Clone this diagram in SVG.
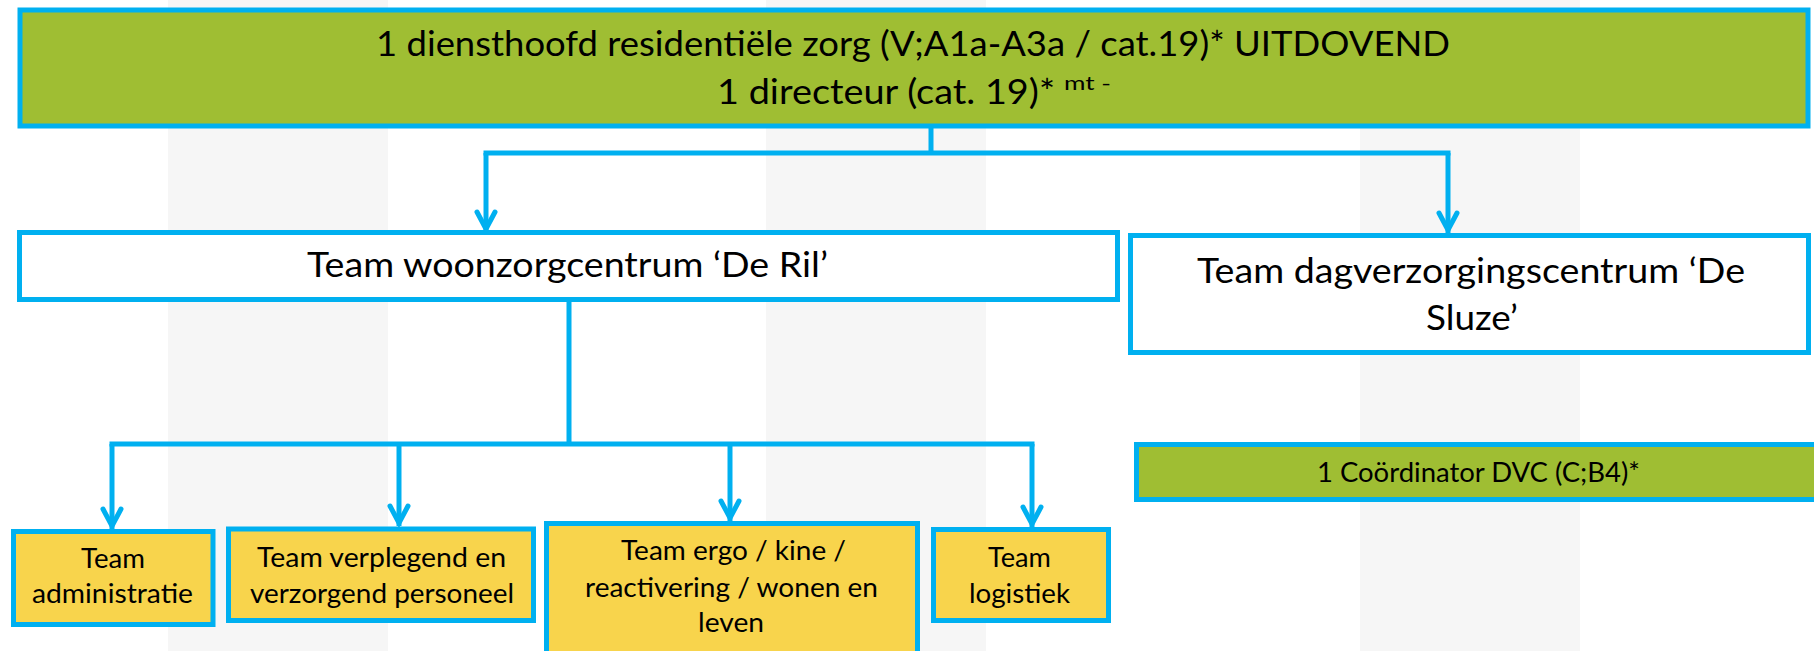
<svg xmlns="http://www.w3.org/2000/svg" width="1814" height="651" viewBox="0 0 1814 651">
<style>
.bg{fill:#f6f6f6}
.box{stroke:#00b0f0;stroke-width:5}
.green{fill:#9fbe33}
.white{fill:#ffffff}
.yellow{fill:#f8d44c}
text{font-family:Lato,"Liberation Sans",sans-serif;fill:#000000}
.big{font-size:35px}
.small{font-size:26px}
.sup{font-size:20px}
.conn{fill:none;stroke:#00b0f0;stroke-width:5}
.bar{fill:none;stroke:#00b0f0;stroke-width:5;stroke-linecap:square}
</style>
<defs>
<marker id="arr" viewBox="-24 -12 28 24" refX="0" refY="0" markerWidth="28" markerHeight="24" orient="auto" markerUnits="userSpaceOnUse">
<path d="M-20,-9 L-3,0 L-20,9" fill="none" stroke="#00b0f0" stroke-width="5" stroke-linecap="round"/>
</marker>
</defs>
<rect width="1814" height="651" fill="#ffffff"/>
<g id="watermark">
<rect class="bg" x="168" y="0" width="220" height="651"/>
<rect class="bg" x="766" y="0" width="220" height="651"/>
<rect class="bg" x="1360" y="0" width="220" height="651"/>
</g>
<g id="connectors">
<path class="conn" d="M931,128 V153"/>
<path class="bar" d="M486,153 H1448"/>
<path class="conn" d="M486,153 V232" marker-end="url(#arr)"/>
<path class="conn" d="M1448,153 V233" marker-end="url(#arr)"/>
<path class="conn" d="M569,302 V444"/>
<path class="bar" d="M112,444 H1032"/>
<path class="conn" d="M112,444 V529" marker-end="url(#arr)"/>
<path class="conn" d="M399,444 V526" marker-end="url(#arr)"/>
<path class="conn" d="M730,444 V521" marker-end="url(#arr)"/>
<path class="conn" d="M1032,444 V527" marker-end="url(#arr)"/>
</g>
<g id="n-top">
<rect class="box green" x="20" y="10" width="1788" height="116"/>
<text class="big" x="376" y="56" textLength="1074" lengthAdjust="spacingAndGlyphs">1 diensthoofd residentiële zorg (V;A1a-A3a / cat.19)* UITDOVEND</text>
<text class="big" x="717" y="104" textLength="338" lengthAdjust="spacingAndGlyphs">1 directeur (cat. 19)*</text>
<text class="sup" x="1064" y="90" textLength="47" lengthAdjust="spacingAndGlyphs">mt -</text>
</g>
<g id="n-woonzorg">
<rect class="box white" x="19.5" y="232.5" width="1098" height="67"/>
<text class="big" x="307" y="277" textLength="521" lengthAdjust="spacingAndGlyphs">Team woonzorgcentrum ‘De Ril’</text>
</g>
<g id="n-dagverzorging">
<rect class="box white" x="1130.5" y="235.5" width="678" height="117"/>
<text class="big" x="1197" y="283" textLength="548" lengthAdjust="spacingAndGlyphs">Team dagverzorgingscentrum ‘De</text>
<text class="big" x="1426" y="330" textLength="92" lengthAdjust="spacingAndGlyphs">Sluze’</text>
</g>
<g id="n-coordinator">
<rect class="box green" x="1136.5" y="444.5" width="680" height="55"/>
<text class="small" x="1317" y="482" textLength="323" lengthAdjust="spacingAndGlyphs">1 Coördinator DVC (C;B4)*</text>
</g>
<g id="n-administratie">
<rect class="box yellow" x="13.5" y="531.5" width="199.5" height="93"/>
<text class="small" x="81" y="568" textLength="64" lengthAdjust="spacingAndGlyphs">Team</text>
<text class="small" x="32" y="603" textLength="161" lengthAdjust="spacingAndGlyphs">administratie</text>
</g>
<g id="n-verplegend">
<rect class="box yellow" x="228.5" y="529" width="305" height="91.5"/>
<text class="small" x="257" y="567" textLength="249" lengthAdjust="spacingAndGlyphs">Team verplegend en</text>
<text class="small" x="250" y="603" textLength="264" lengthAdjust="spacingAndGlyphs">verzorgend personeel</text>
</g>
<g id="n-ergo">
<rect class="box yellow" x="546.5" y="523.5" width="371" height="140"/>
<text class="small" x="621" y="560" textLength="225" lengthAdjust="spacingAndGlyphs">Team ergo / kine /</text>
<text class="small" x="585" y="597" textLength="293" lengthAdjust="spacingAndGlyphs">reactivering / wonen en</text>
<text class="small" x="698" y="632" textLength="66" lengthAdjust="spacingAndGlyphs">leven</text>
</g>
<g id="n-logistiek">
<rect class="box yellow" x="933.5" y="529.5" width="175" height="91"/>
<text class="small" x="988" y="567" textLength="63" lengthAdjust="spacingAndGlyphs">Team</text>
<text class="small" x="969" y="603" textLength="101" lengthAdjust="spacingAndGlyphs">logistiek</text>
</g>
</svg>
